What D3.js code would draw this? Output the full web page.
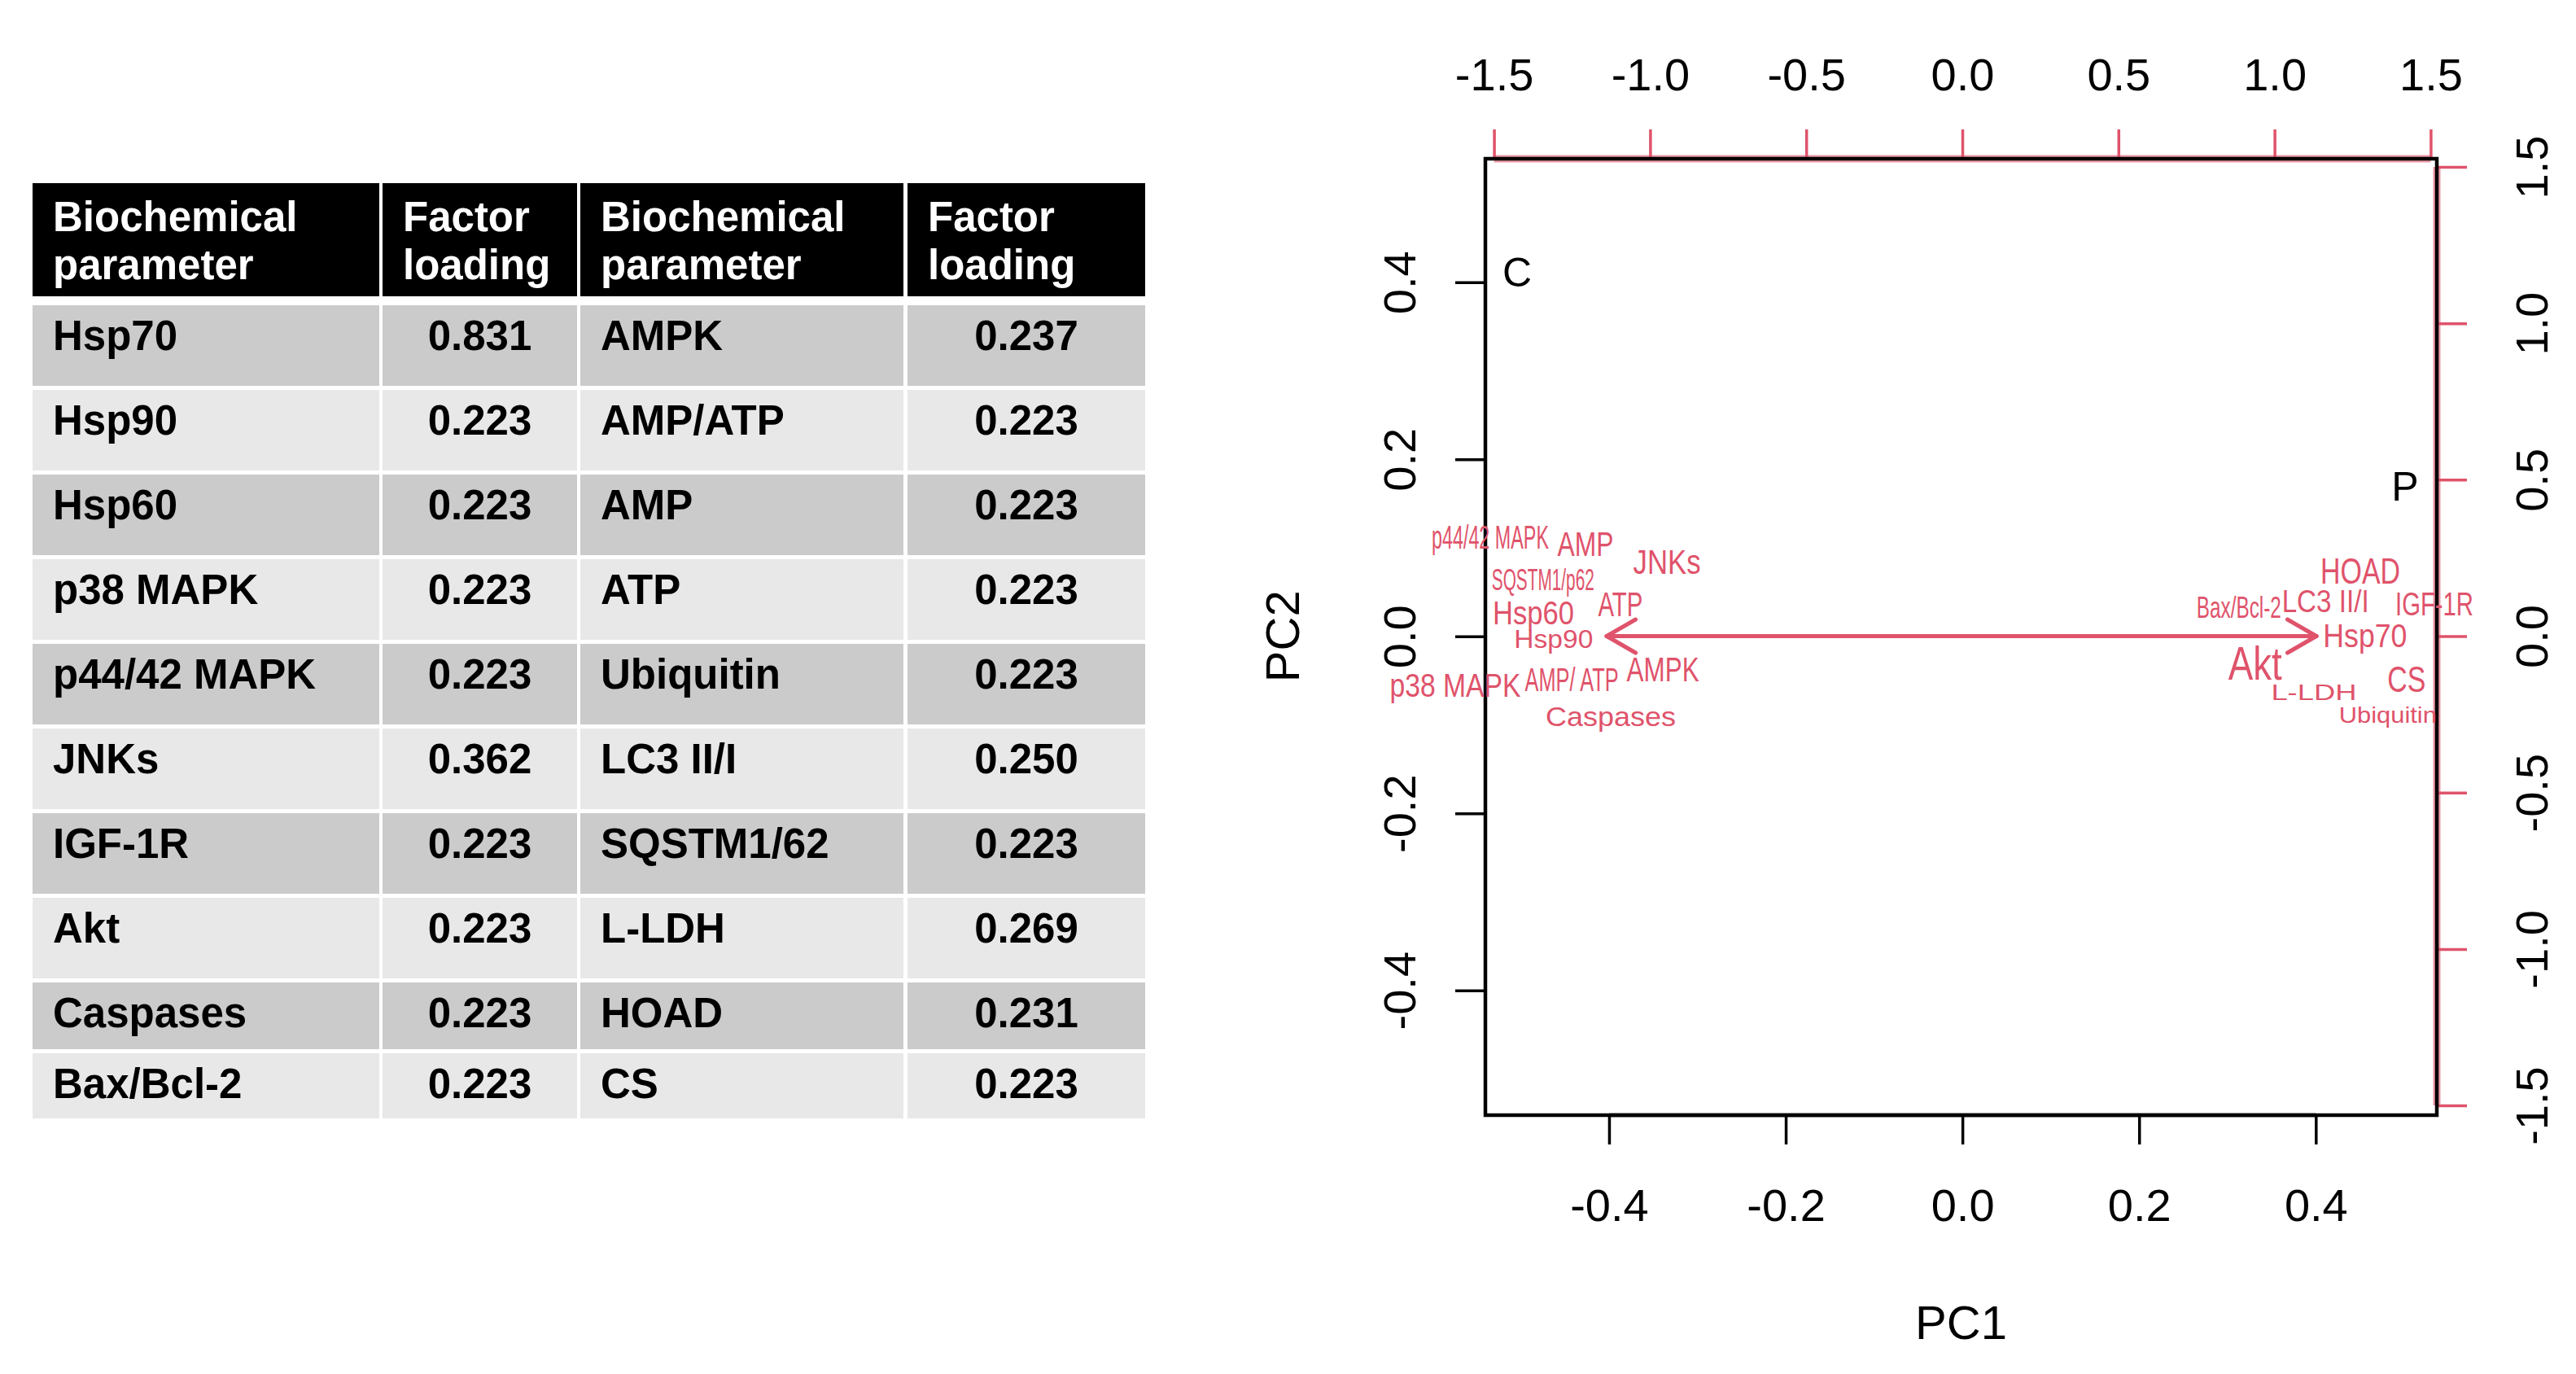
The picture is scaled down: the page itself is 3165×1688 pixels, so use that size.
<!DOCTYPE html>
<html>
<head>
<meta charset="utf-8">
<script src="https://cdn.jsdelivr.net/npm/d3@7"></script>
<style>
  body { margin: 0; background: #fff; }
  svg { display: block; font-family: "Liberation Sans", Arial, sans-serif; }
</style>
</head>
<body>
<div id="chart"></div>
<script>
const width = 3165;
const height = 1688;

// ---- table data ----
const paramsLeft = ["Hsp70", "Hsp90", "Hsp60", "p38 MAPK", "p44/42 MAPK", "JNKs", "IGF-1R", "Akt", "Caspases", "Bax/Bcl-2"];
const loadingsLeft = [0.831, 0.223, 0.223, 0.223, 0.223, 0.362, 0.223, 0.223, 0.223, 0.223];
const paramsRight = ["AMPK", "AMP/ATP", "AMP", "ATP", "Ubiquitin", "LC3 II/I", "SQSTM1/62", "L-LDH", "HOAD", "CS"];
const loadingsRight = [0.237, 0.223, 0.223, 0.223, 0.223, 0.250, 0.223, 0.269, 0.231, 0.223];
const headers = [["Biochemical", "parameter"], ["Factor", "loading"], ["Biochemical", "parameter"], ["Factor", "loading"]];

// ---- biplot data ----
const varNames = ["p44/42 MAPK", "AMP", "JNKs", "SQSTM1/p62", "ATP", "Hsp60", "Hsp90", "p38 MAPK", "AMP/ ATP", "AMPK", "Caspases",
                  "HOAD", "Bax/Bcl-2", "LC3 II/I", "IGF-1R", "Hsp70", "Akt", "CS", "L-LDH", "Ubiquitin"];
const varPC1 = [-1.512, -1.207, -0.946, -1.343, -1.095, -1.374, -1.309, -1.624, -1.251, -0.959, -1.126,
                1.275, 0.886, 1.163, 1.512, 1.290, 0.938, 1.423, 1.126, 1.363];
const varPC2 = [0.316, 0.295, 0.238, 0.181, 0.103, 0.074, -0.009, -0.157, -0.139, -0.105, -0.256,
                0.209, 0.092, 0.111, 0.103, 0.001, -0.085, -0.137, -0.178, -0.251];
const arrowPC1 = [-1.139, 1.134];
const arrowPC2 = [0, 0];
const sampleNames = ["C", "P"];
const samplePC1 = [-0.504, 0.501];
const samplePC2 = [0.411, 0.169];
const scoreTicks = [-0.4, -0.2, 0, 0.2, 0.4];
const loadTicks = [-1.5, -1, -0.5, 0, 0.5, 1, 1.5];

// label sizes as drawn (font size, rendered width)
const labelStyle = {
  "p44/42 MAPK": [40, 144], "AMP": [42, 69], "JNKs": [42, 83], "SQSTM1/p62": [36, 126], "ATP": [42, 55],
  "Hsp60": [40, 100], "Hsp90": [32, 97], "p38 MAPK": [40, 161], "AMP/ ATP": [40, 115], "AMPK": [42, 89],
  "Caspases": [34, 160], "HOAD": [44, 98], "Bax/Bcl-2": [36, 104], "LC3 II/I": [38, 107], "IGF-1R": [40, 96],
  "Hsp70": [40, 103], "Akt": [58, 66], "CS": [44, 47], "L-LDH": [28, 105], "Ubiquitin": [28, 120]
};

const red = "#DF536B";
const fmtLocale = d3.formatLocale({decimal: ".", thousands: ",", grouping: [3], currency: ["", ""], minus: "-"});
const f1 = fmtLocale.format(".1f");
const f3 = fmtLocale.format(".3f");

const svg = d3.select("#chart")
  .append("svg")
  .attr("width", width)
  .attr("height", height);

svg.append("rect").attr("width", width).attr("height", height).attr("fill", "#fff");

// ================= table =================
const cols = [[40, 466], [470, 709], [713, 1110], [1115, 1407]];
const headTop = 225, headBottom = 364;
const rowHeights = [99, 99, 99, 99, 99, 99, 99, 99, 82, 80];
const rowGap = 5;
let acc = 375;
const rows = rowHeights.map((h, i) => {
  const r = {i, top: acc, h};
  acc += h + rowGap;
  return r;
});

const table = svg.append("g").attr("font-weight", "bold").attr("font-size", 51);

table.selectAll("rect.head")
  .data(cols)
  .join("rect")
  .attr("class", "head")
  .attr("x", d => d[0])
  .attr("y", headTop)
  .attr("width", d => d[1] - d[0])
  .attr("height", headBottom - headTop)
  .attr("fill", "#000");

cols.forEach((c, ci) => {
  headers[ci].forEach((line, li) => {
    table.append("text")
      .attr("x", c[0] + 25)
      .attr("y", 284 + li * 59)
      .attr("fill", "#fff")
      .text(line);
  });
});

const rowData = rows.map(r => ({
  ...r,
  cells: [paramsLeft[r.i], f3(loadingsLeft[r.i]), paramsRight[r.i], f3(loadingsRight[r.i])]
}));

const rowG = table.selectAll("g.row")
  .data(rowData)
  .join("g")
  .attr("class", "row");

rowG.selectAll("rect")
  .data(r => cols.map(c => ({c, r})))
  .join("rect")
  .attr("x", d => d.c[0])
  .attr("y", d => d.r.top)
  .attr("width", d => d.c[1] - d.c[0])
  .attr("height", d => d.r.h)
  .attr("fill", d => d.r.i % 2 === 0 ? "#cbcbcb" : "#e8e8e8");

rowG.selectAll("text")
  .data(r => r.cells.map((t, ci) => ({t, ci, r})))
  .join("text")
  .attr("x", d => d.ci % 2 === 0 ? cols[d.ci][0] + 25 : (cols[d.ci][0] + cols[d.ci][1]) / 2)
  .attr("y", d => d.r.top + Math.min(d.r.h / 2, 37))
  .attr("dy", "0.35em")
  .attr("text-anchor", d => d.ci % 2 === 0 ? "start" : "middle")
  .attr("fill", "#000")
  .text(d => d.t);

// ================= biplot =================
const box = {x0: 1825, x1: 2994, y0: 195, y1: 1370};

const xScore = d3.scaleLinear().domain([-0.540, 0.537]).range([box.x0, box.x1]);
const yScore = d3.scaleLinear().domain([-0.541, 0.5396]).range([box.y1, box.y0]);
const xLoad = d3.scaleLinear().domain([-1.5276, 1.5198]).range([box.x0, box.x1]);
const yLoad = d3.scaleLinear().domain([-1.531, 1.526]).range([box.y1, box.y0]);

const plot = svg.append("g");

// sample labels
plot.selectAll("text.sample")
  .data(sampleNames.map((n, i) => ({n, x: samplePC1[i], y: samplePC2[i]})))
  .join("text")
  .attr("class", "sample")
  .attr("x", d => xScore(d.x))
  .attr("y", d => yScore(d.y))
  .attr("dy", "0.35em")
  .attr("text-anchor", "middle")
  .attr("font-size", 50)
  .attr("fill", "#000")
  .text(d => d.n);

function styleAxis(g, tickColor, textColor) {
  g.select(".domain").remove();
  g.attr("font-size", 56).attr("font-family", null).attr("color", tickColor);
  g.selectAll(".tick line").attr("stroke-width", 3.5);
  g.selectAll(".tick text").attr("fill", textColor);
}

// bottom axis
plot.append("g")
  .attr("transform", `translate(0,${box.y1})`)
  .call(d3.axisBottom(xScore).tickValues(scoreTicks).tickSize(36).tickFormat(f1))
  .call(g => styleAxis(g, "#000", "#000"))
  .call(g => g.selectAll(".tick text").attr("y", 110).attr("dy", "0.35em"));

plot.append("line")
  .attr("x1", xScore(scoreTicks[0])).attr("x2", xScore(scoreTicks[scoreTicks.length - 1]))
  .attr("y1", box.y1).attr("y2", box.y1)
  .attr("stroke", "#000").attr("stroke-width", 4.5);

// left axis
plot.append("g")
  .attr("transform", `translate(${box.x0},0)`)
  .call(d3.axisLeft(yScore).tickValues(scoreTicks).tickSize(37).tickFormat(f1))
  .call(g => styleAxis(g, "#000", "#000"))
  .call(g => g.selectAll(".tick text")
    .attr("x", null).attr("dy", "0.35em")
    .attr("text-anchor", "middle")
    .attr("transform", "translate(-106,0) rotate(-90)"));

// top axis (loadings)
plot.append("g")
  .attr("transform", `translate(0,${box.y0})`)
  .call(d3.axisTop(xLoad).tickValues(loadTicks).tickSize(36).tickFormat(f1))
  .call(g => styleAxis(g, red, "#000"))
  .call(g => g.selectAll(".tick text").attr("y", -104).attr("dy", "0.35em"));

// right axis (loadings)
plot.append("g")
  .attr("transform", `translate(${box.x1},0)`)
  .call(d3.axisRight(yLoad).tickValues(loadTicks).tickSize(37).tickFormat(f1))
  .call(g => styleAxis(g, red, "#000"))
  .call(g => g.selectAll(".tick text")
    .attr("x", null).attr("dy", "0.35em")
    .attr("text-anchor", "middle")
    .attr("transform", "translate(116,0) rotate(-90)"));

plot.append("line")
  .attr("x1", xLoad(loadTicks[0])).attr("x2", xLoad(loadTicks[loadTicks.length - 1]))
  .attr("y1", box.y0).attr("y2", box.y0)
  .attr("stroke", red).attr("stroke-opacity", 0.6).attr("stroke-width", 9);
plot.append("line")
  .attr("x1", box.x1).attr("x2", box.x1)
  .attr("y1", yLoad(loadTicks[0])).attr("y2", yLoad(loadTicks[loadTicks.length - 1]))
  .attr("stroke", red).attr("stroke-opacity", 0.6).attr("stroke-width", 9);

// box
plot.append("rect")
  .attr("x", box.x0).attr("y", box.y0)
  .attr("width", box.x1 - box.x0).attr("height", box.y1 - box.y0)
  .attr("fill", "none").attr("stroke", "#000").attr("stroke-width", 4.5);

// axis titles
plot.append("text")
  .attr("x", (box.x0 + box.x1) / 2).attr("y", 1625).attr("dy", "0.35em")
  .attr("text-anchor", "middle").attr("font-size", 58).attr("fill", "#000")
  .text("PC1");
plot.append("text")
  .attr("transform", `translate(1576,${yScore(0)}) rotate(-90)`)
  .attr("dy", "0.35em")
  .attr("text-anchor", "middle").attr("font-size", 58).attr("fill", "#000")
  .text("PC2");

// arrows
const arrows = arrowPC1.map((x, i) => ({x, y: arrowPC2[i]}));
const headLen = 41, headAng = Math.PI / 6;
const arrowG = plot.append("g").attr("stroke", red).attr("stroke-width", 5).attr("stroke-linecap", "round");
arrows.forEach(a => {
  const x0 = xLoad(0), y0 = yLoad(0), x1 = xLoad(a.x), y1 = yLoad(a.y);
  const ang = Math.atan2(y1 - y0, x1 - x0);
  arrowG.append("line").attr("x1", x0).attr("y1", y0).attr("x2", x1).attr("y2", y1);
  [-headAng, headAng].forEach(h => {
    arrowG.append("line")
      .attr("x1", x1).attr("y1", y1)
      .attr("x2", x1 - headLen * Math.cos(ang + h))
      .attr("y2", y1 - headLen * Math.sin(ang + h));
  });
});

// variable labels
plot.selectAll("text.var")
  .data(varNames.map((n, i) => ({n, x: varPC1[i], y: varPC2[i]})))
  .join("text")
  .attr("class", "var")
  .attr("x", d => xLoad(d.x))
  .attr("y", d => yLoad(d.y))
  .attr("dy", "0.35em")
  .attr("text-anchor", "middle")
  .attr("font-size", d => labelStyle[d.n][0])
  .attr("textLength", d => labelStyle[d.n][1])
  .attr("lengthAdjust", "spacingAndGlyphs")
  .attr("fill", red)
  .text(d => d.n);
</script>
</body>
</html>
